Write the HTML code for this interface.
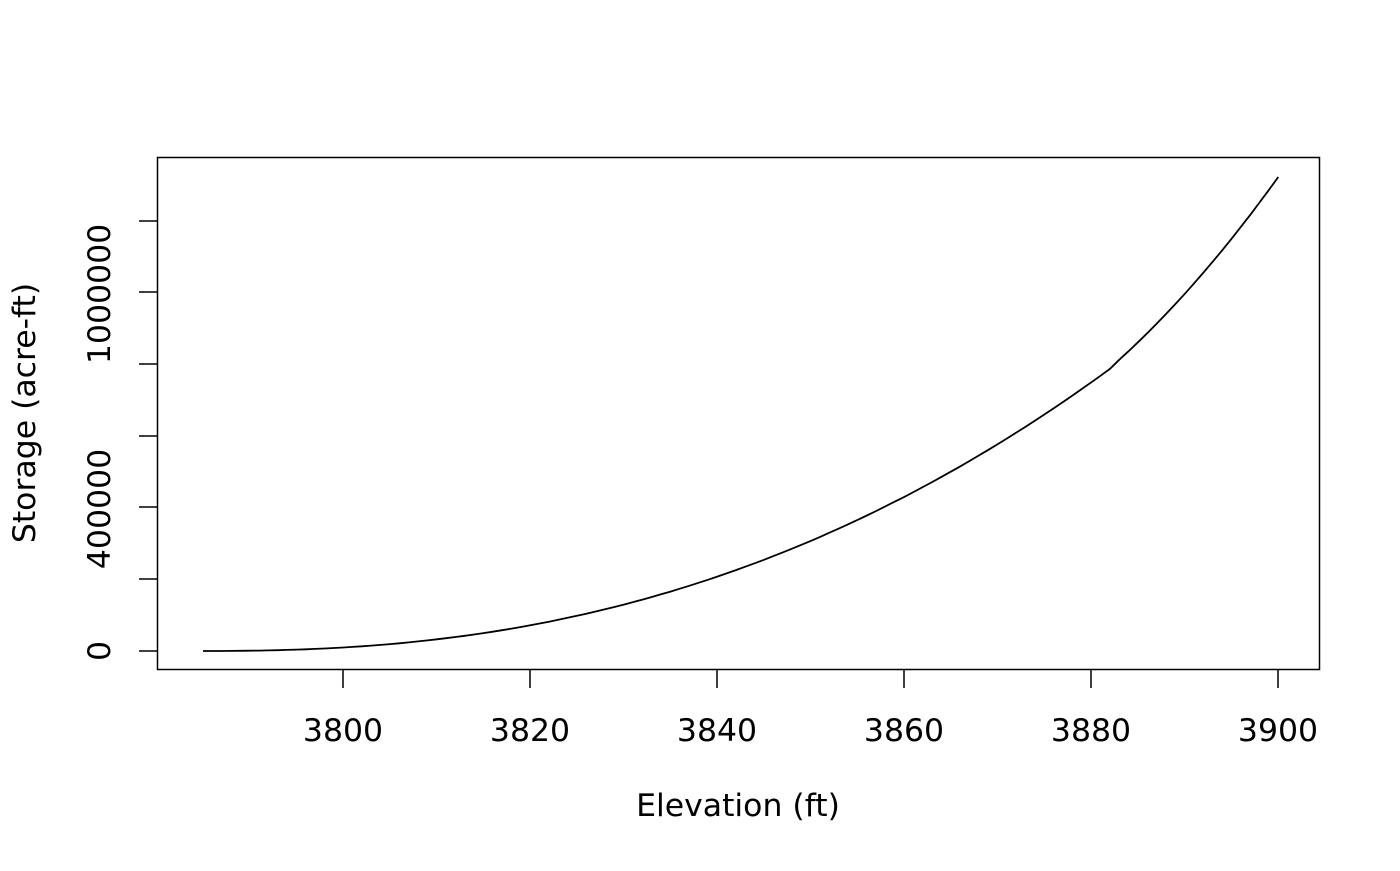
<!DOCTYPE html>
<html><head><style>body{margin:0;background:#fff}</style></head><body>
<svg width="1400" height="866" xmlns="http://www.w3.org/2000/svg" font-family="DejaVu Sans, Liberation Sans, sans-serif" font-size="31.5">
<rect x="157.5" y="157.5" width="1162" height="512" fill="none" stroke="#000" stroke-width="1.5"/>
<g stroke="#000" stroke-width="1.5">
<line x1="343" y1="670" x2="343" y2="688"/><line x1="530" y1="670" x2="530" y2="688"/><line x1="717" y1="670" x2="717" y2="688"/><line x1="904" y1="670" x2="904" y2="688"/><line x1="1091" y1="670" x2="1091" y2="688"/><line x1="1278" y1="670" x2="1278" y2="688"/>
<line x1="139" y1="651" x2="157" y2="651"/><line x1="139" y1="579" x2="157" y2="579"/><line x1="139" y1="507" x2="157" y2="507"/><line x1="139" y1="436" x2="157" y2="436"/><line x1="139" y1="364" x2="157" y2="364"/><line x1="139" y1="292" x2="157" y2="292"/><line x1="139" y1="221" x2="157" y2="221"/>
</g>
<g text-anchor="middle">
<text x="343" y="741">3800</text><text x="530" y="741">3820</text><text x="717" y="741">3840</text><text x="904" y="741">3860</text><text x="1091" y="741">3880</text><text x="1278" y="741">3900</text>
<text x="738" y="816">Elevation (ft)</text>
<text transform="translate(110,651) rotate(-90)">0</text>
<text transform="translate(110,509) rotate(-90)">400000</text>
<text transform="translate(110,294) rotate(-90)">1000000</text>
<text transform="translate(35,413) rotate(-90)">Storage (acre-ft)</text>
</g>
<path id="c" fill="none" stroke="#000" stroke-width="1.8"/>
</svg>
<script>
var pts=[];
for(var e=3785;e<=3882;e+=1){var d=e-3785;pts.push([203+d*9.35,651-0.006047*Math.pow(d,2.35)]);}
for(var t=1;t<=18;t++){var e=3882+t;pts.push([203+(e-3785)*9.35,368-(8.2*t+0.134*t*t)]);}
document.getElementById('c').setAttribute('d','M'+pts.map(function(p){return p[0].toFixed(1)+','+p[1].toFixed(1)}).join(' L'));
</script>
</body></html>
